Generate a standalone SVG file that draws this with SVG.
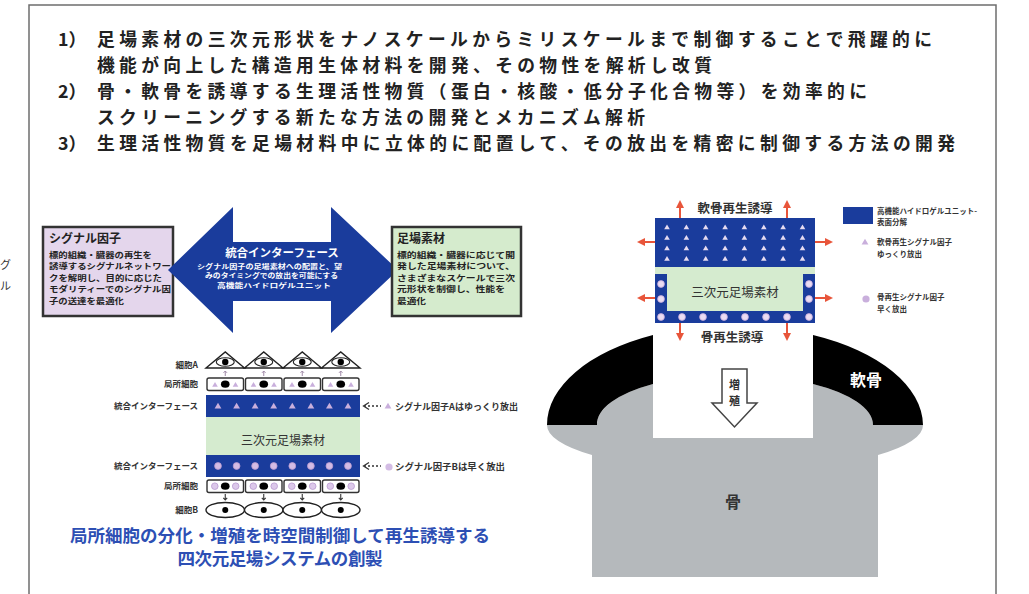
<svg xmlns="http://www.w3.org/2000/svg" xmlns:xlink="http://www.w3.org/1999/xlink" width="1029" height="594" viewBox="0 0 1029 594">
  <style>
    .jp { font-family: "Noto Sans CJK JP", "Noto Sans CJK SC", sans-serif; }
    .b { font-weight: 700; }
    .head { font-size: 17.8px; fill: #222; font-weight: 700; }
    .boxttl { font-size: 12px; fill: #222; font-weight: 700; }
    .boxtxt { font-size: 7.9px; fill: #222; font-weight: 700; }
    .lbl { font-size: 8.5px; fill: #333; font-weight: 700; text-anchor: end; }
    .note { font-size: 9px; fill: #333; font-weight: 700; }
    .leg { font-size: 7.5px; fill: #333; font-weight: 700; }
    .blue { fill: #1a3c9c; }
    .green { fill: #d5ebcf; }
    .lav { fill: #c9afdc; }
    .cell { fill: #fff; stroke: #333; stroke-width: 1.4; }
    .red { stroke: #e8553a; stroke-width: 2; fill: none; marker-end: url(#redHead); }
  </style>
  <defs>
    <marker id="redHead" viewBox="0 0 10 10" refX="5" refY="5" markerWidth="4" markerHeight="4" orient="auto-start-reverse" markerUnits="strokeWidth">
      <path d="M0,0 L10,5 L0,10 Z" fill="#e8553a"/>
    </marker>
    <path id="tri" d="M0,-3.2 L3.4,2.6 L-3.4,2.6 Z"/>
    <path id="triS" d="M0,-2.6 L2.8,2.2 L-2.8,2.2 Z"/>
  </defs>

  <rect width="1029" height="594" fill="#fff"/>

  <!-- outer frame -->
  <g id="frame" stroke="#6e6e6e" stroke-width="1.5" fill="none">
    <path d="M29,594 L29,5 L996,5 L996,594"/>
  </g>

  <!-- characters at the left edge -->
  <g id="edge-text" class="jp" font-size="11" fill="#333">
    <text x="0" y="269">グ</text>
    <text x="0" y="290">ル</text>
  </g>

  <!-- research goals -->
  <g id="goals" class="jp head">
    <text x="58" y="46">1）</text>
    <text x="97" y="46" textLength="835" lengthAdjust="spacing">足場素材の三次元形状をナノスケールからミリスケールまで制御することで飛躍的に</text>
    <text x="97" y="72" textLength="615" lengthAdjust="spacing">機能が向上した構造用生体材料を開発、その物性を解析し改質</text>
    <text x="58" y="98">2）</text>
    <text x="97" y="98" textLength="770" lengthAdjust="spacing">骨・軟骨を誘導する生理活性物質（蛋白・核酸・低分子化合物等）を効率的に</text>
    <text x="97" y="124" textLength="548" lengthAdjust="spacing">スクリーニングする新たな方法の開発とメカニズム解析</text>
    <text x="58" y="150">3）</text>
    <text x="97" y="150" textLength="858" lengthAdjust="spacing">生理活性物質を足場材料中に立体的に配置して、その放出を精密に制御する方法の開発</text>
  </g>

  <!-- signal factor box -->
  <g id="signal-box" class="jp">
    <rect x="43" y="227" width="130" height="89" fill="#e4d6ec" stroke="#333" stroke-width="2.5"/>
    <text class="boxttl" x="49" y="243">シグナル因子</text>
    <text class="boxtxt" x="49" y="257.5" textLength="103" lengthAdjust="spacingAndGlyphs">標的組織・臓器の再生を</text>
    <text class="boxtxt" x="49" y="269" textLength="122" lengthAdjust="spacingAndGlyphs">誘導するシグナルネットワー</text>
    <text class="boxtxt" x="49" y="280.5" textLength="113" lengthAdjust="spacingAndGlyphs">クを解明し、目的に応じた</text>
    <text class="boxtxt" x="49" y="292" textLength="122" lengthAdjust="spacingAndGlyphs">モダリティーでのシグナル因</text>
    <text class="boxtxt" x="49" y="303.5" textLength="75" lengthAdjust="spacingAndGlyphs">子の送達を最適化</text>
  </g>

  <!-- integrated interface double arrow -->
  <g id="interface-arrow" class="jp">
    <path class="blue" d="M168,270 L233,207 L233,242 L331,242 L331,207 L398,270 L331,333 L331,301 L233,301 L233,333 Z"/>
    <text x="282" y="256.5" font-size="11.5" fill="#fff" font-weight="700" text-anchor="middle">統合インターフェース</text>
    <g font-size="6.5" fill="#fff" font-weight="700">
      <text x="197" y="268.5" textLength="145" lengthAdjust="spacingAndGlyphs">シグナル因子の足場素材への配置と、望</text>
      <text x="205" y="278" textLength="133" lengthAdjust="spacingAndGlyphs">みのタイミングでの放出を可能にする</text>
      <text x="217" y="287.5" textLength="114" lengthAdjust="spacingAndGlyphs">高機能ハイドロゲルユニット</text>
    </g>
  </g>

  <!-- scaffold material box -->
  <g id="scaffold-box" class="jp">
    <rect x="392" y="227" width="129" height="89" fill="#d5ebcd" stroke="#333" stroke-width="2.5"/>
    <text class="boxttl" x="397" y="243">足場素材</text>
    <text class="boxtxt" x="397" y="257.5" textLength="118" lengthAdjust="spacingAndGlyphs">標的組織・臓器に応じて開</text>
    <text class="boxtxt" x="397" y="269" textLength="118" lengthAdjust="spacingAndGlyphs">発した足場素材について、</text>
    <text class="boxtxt" x="397" y="280.5" textLength="118" lengthAdjust="spacingAndGlyphs">さまざまなスケールで三次</text>
    <text class="boxtxt" x="397" y="292" textLength="108" lengthAdjust="spacingAndGlyphs">元形状を制御し、性能を</text>
    <text class="boxtxt" x="397" y="303.5" textLength="29" lengthAdjust="spacingAndGlyphs">最適化</text>
  </g>

  <!-- layered scaffold system -->
  <g id="layer-labels" class="jp lbl">
    <text x="198" y="368">細胞A</text>
    <text x="198" y="387">局所細胞</text>
    <text x="198" y="409">統合インターフェース</text>
    <text x="198" y="469">統合インターフェース</text>
    <text x="198" y="489">局所細胞</text>
    <text x="198" y="513">細胞B</text>
  </g>

  <g id="cells-a" stroke="#222" stroke-width="1.4" fill="#fff">
    <path d="M206,368 L225.25,352 L244.5,368 Z"/>
    <path d="M244.5,368 L263.75,352 L283,368 Z"/>
    <path d="M283,368 L302.25,352 L321.5,368 Z"/>
    <path d="M321.5,368 L340.75,352 L360,368 Z"/>
    <g stroke-width="1.1">
      <ellipse cx="225.25" cy="362" rx="9" ry="4.2"/>
      <ellipse cx="263.75" cy="362" rx="9" ry="4.2"/>
      <ellipse cx="302.25" cy="362" rx="9" ry="4.2"/>
      <ellipse cx="340.75" cy="362" rx="9" ry="4.2"/>
    </g>
    <g fill="#000" stroke="none">
      <circle cx="225.25" cy="362" r="3.2"/>
      <circle cx="263.75" cy="362" r="3.2"/>
      <circle cx="302.25" cy="362" r="3.2"/>
      <circle cx="340.75" cy="362" r="3.2"/>
    </g>
  </g>

  <g id="local-cells-top">
    <g class="cell">
      <rect x="207" y="378" width="36.5" height="12.5" rx="2"/>
      <rect x="245.5" y="378" width="36.5" height="12.5" rx="2"/>
      <rect x="284" y="378" width="36.5" height="12.5" rx="2"/>
      <rect x="322.5" y="378" width="36.5" height="12.5" rx="2"/>
    </g>
    <g class="lav">
      <use href="#triS" x="215" y="384.5"/><use href="#triS" x="235.5" y="384.5"/>
      <use href="#triS" x="253.5" y="384.5"/><use href="#triS" x="274" y="384.5"/>
      <use href="#triS" x="292" y="384.5"/><use href="#triS" x="312.5" y="384.5"/>
      <use href="#triS" x="330.5" y="384.5"/><use href="#triS" x="351" y="384.5"/>
    </g>
    <g fill="#000">
      <ellipse cx="225.25" cy="384.2" rx="4.3" ry="3.6"/>
      <ellipse cx="263.75" cy="384.2" rx="4.3" ry="3.6"/>
      <ellipse cx="302.25" cy="384.2" rx="4.3" ry="3.6"/>
      <ellipse cx="340.75" cy="384.2" rx="4.3" ry="3.6"/>
    </g>
  </g>

  <g id="interface-top">
    <rect class="blue" x="206" y="395" width="154" height="22"/>
    <g class="lav">
      <use href="#tri" x="218" y="406"/><use href="#tri" x="236.6" y="406"/>
      <use href="#tri" x="255.1" y="406"/><use href="#tri" x="273.7" y="406"/>
      <use href="#tri" x="292.3" y="406"/><use href="#tri" x="310.9" y="406"/>
      <use href="#tri" x="329.4" y="406"/><use href="#tri" x="348" y="406"/>
    </g>
  </g>

  <g id="scaffold-core" class="jp">
    <rect class="green" x="206" y="417" width="154" height="38"/>
    <text x="283" y="444.5" font-size="12" fill="#333" text-anchor="middle">三次元足場素材</text>
  </g>

  <g id="interface-bottom">
    <rect class="blue" x="206" y="455" width="154" height="22"/>
    <g fill="#d3bce4" stroke="#b999cf" stroke-width="0.8">
      <circle cx="218" cy="466" r="3.4"/><circle cx="236.6" cy="466" r="3.4"/>
      <circle cx="255.1" cy="466" r="3.4"/><circle cx="273.7" cy="466" r="3.4"/>
      <circle cx="292.3" cy="466" r="3.4"/><circle cx="310.9" cy="466" r="3.4"/>
      <circle cx="329.4" cy="466" r="3.4"/><circle cx="348" cy="466" r="3.4"/>
    </g>
  </g>

  <g id="local-cells-bottom">
    <g class="cell">
      <rect x="207" y="480" width="36.5" height="12.5" rx="2"/>
      <rect x="245.5" y="480" width="36.5" height="12.5" rx="2"/>
      <rect x="284" y="480" width="36.5" height="12.5" rx="2"/>
      <rect x="322.5" y="480" width="36.5" height="12.5" rx="2"/>
    </g>
    <g fill="#dcc8ea" stroke="#b999cf" stroke-width="0.8">
      <circle cx="214.8" cy="486.2" r="3.3"/><circle cx="235.7" cy="486.2" r="3.3"/>
      <circle cx="253.3" cy="486.2" r="3.3"/><circle cx="274.2" cy="486.2" r="3.3"/>
      <circle cx="291.8" cy="486.2" r="3.3"/><circle cx="312.7" cy="486.2" r="3.3"/>
      <circle cx="330.3" cy="486.2" r="3.3"/><circle cx="351.2" cy="486.2" r="3.3"/>
    </g>
    <g fill="#000">
      <ellipse cx="225.25" cy="486.2" rx="4.3" ry="3.6"/>
      <ellipse cx="263.75" cy="486.2" rx="4.3" ry="3.6"/>
      <ellipse cx="302.25" cy="486.2" rx="4.3" ry="3.6"/>
      <ellipse cx="340.75" cy="486.2" rx="4.3" ry="3.6"/>
    </g>
  </g>

  <g id="cells-b">
    <g fill="#fff" stroke="#222" stroke-width="1.4">
      <ellipse cx="225.25" cy="510" rx="19.25" ry="7.5"/>
      <ellipse cx="263.75" cy="510" rx="19.25" ry="7.5"/>
      <ellipse cx="302.25" cy="510" rx="19.25" ry="7.5"/>
      <ellipse cx="340.75" cy="510" rx="19.25" ry="7.5"/>
    </g>
    <g fill="#000">
      <circle cx="225.25" cy="510" r="3"/>
      <circle cx="263.75" cy="510" r="3"/>
      <circle cx="302.25" cy="510" r="3"/>
      <circle cx="340.75" cy="510" r="3"/>
    </g>
  </g>

  <!-- release notes -->
  <g id="release-notes" class="jp note">
    <use class="lav" href="#tri" x="388" y="406"/>
    <text x="395" y="409.5" textLength="123" lengthAdjust="spacingAndGlyphs">シグナル因子Aはゆっくり放出</text>
    <circle cx="389" cy="467" r="3.6" fill="#d3bce4"/>
    <text x="395" y="470" textLength="110" lengthAdjust="spacingAndGlyphs">シグナル因子Bは早く放出</text>
  </g>

  <g id="connectors">
    <!-- release pointers -->
    <g stroke="#333" stroke-width="1.3" fill="none">
      <path d="M369,402.5 L363.5,406 L369,409.5"/>
      <path d="M364,406 L381,406" stroke-dasharray="2 2"/>
      <path d="M369,462.5 L363.5,466 L369,469.5"/>
      <path d="M364,466 L381,466" stroke-dasharray="2 2"/>
    </g>
    <!-- signals from cell A -->
    <g stroke="#a08aa8" stroke-width="1" fill="none">
      <path d="M225.25,376 L225.25,371 M223.5,372.8 L225.25,371 L227,372.8"/>
      <path d="M263.75,376 L263.75,371 M262,372.8 L263.75,371 L265.5,372.8"/>
      <path d="M302.25,376 L302.25,371 M300.5,372.8 L302.25,371 L304,372.8"/>
      <path d="M340.75,376 L340.75,371 M339,372.8 L340.75,371 L342.5,372.8"/>
    </g>
    <!-- signals towards cell B -->
    <g stroke="#333" stroke-width="1.1" fill="none">
      <path d="M225.25,494 L225.25,500 M223.3,497.8 L225.25,500 L227.2,497.8"/>
      <path d="M263.75,494 L263.75,500 M261.8,497.8 L263.75,500 L265.7,497.8"/>
      <path d="M302.25,494 L302.25,500 M300.3,497.8 L302.25,500 L304.2,497.8"/>
      <path d="M340.75,494 L340.75,500 M338.8,497.8 L340.75,500 L342.7,497.8"/>
    </g>
    <!-- regeneration signals leaving the implant -->
    <g>
      <path class="red" d="M680,218 L680,204"/>
      <path class="red" d="M787,218 L787,204"/>
      <path class="red" d="M655,242 L641,242"/>
      <path class="red" d="M655,298 L641,298"/>
      <path class="red" d="M815,242 L829,242"/>
      <path class="red" d="M815,298 L829,298"/>
      <path class="red" d="M680,323 L680,337"/>
      <path class="red" d="M787,323 L787,337"/>
    </g>
  </g>

  <!-- headline -->
  <g id="headline" class="jp b" font-size="17.5" fill="#2d4fb4" text-anchor="middle">
    <text x="280" y="541.5" textLength="420" lengthAdjust="spacing">局所細胞の分化・増殖を時空間制御して再生誘導する</text>
    <text x="280" y="564.5" textLength="205" lengthAdjust="spacing">四次元足場システムの創製</text>
  </g>

  <!-- joint: bone and cartilage -->
  <g id="bone">
    <path fill="#b5b9bc" d="M547,425 A188,46 0 0 0 592,455 L592,577 L878,577 L878,455 A188,46 0 0 0 923,425 L873,425 A138,50 0 0 0 813,384 L813,438 L653,438 L653,384 A138,50 0 0 0 597,425 Z"/>
    <text class="jp b" x="733" y="508" font-size="16" fill="#333" text-anchor="middle">骨</text>
  </g>
  <g id="cartilage">
    <path fill="#000" d="M547,425 A188,100 0 0 1 653,335 L653,384 A138,50 0 0 0 597,425 Z"/>
    <path fill="#000" d="M813,335 A188,100 0 0 1 923,425 L873,425 A138,50 0 0 0 813,384 Z"/>
    <text class="jp b" x="866" y="386" font-size="16" fill="#fff" text-anchor="middle">軟骨</text>
  </g>

  <g id="growth-arrow" class="jp">
    <path d="M722,369 L747,369 L747,403 L757,403 L734.5,427 L712,403 L722,403 Z" fill="#fff" stroke="#444" stroke-width="1.5"/>
    <text x="734.5" y="389" font-size="11" fill="#333" font-weight="700" text-anchor="middle">増</text>
    <text x="734.5" y="405" font-size="11" fill="#333" font-weight="700" text-anchor="middle">殖</text>
  </g>

  <!-- implanted scaffold unit -->
  <g id="implant" class="jp">
    <rect class="blue" x="655" y="218" width="160" height="105"/>
    <path class="green" d="M655,267 L815,267 L815,274 L803,274 L803,311 L667,311 L667,274 L655,274 Z"/>
    <g fill="#e6dbf1">
      <use href="#triS" x="667" y="227"/><use href="#triS" x="686.4" y="227"/><use href="#triS" x="705.7" y="227"/><use href="#triS" x="725.1" y="227"/>
      <use href="#triS" x="744.4" y="227"/><use href="#triS" x="763.8" y="227"/><use href="#triS" x="783.1" y="227"/><use href="#triS" x="802.5" y="227"/>
      <use href="#triS" x="667" y="237.5"/><use href="#triS" x="686.4" y="237.5"/><use href="#triS" x="705.7" y="237.5"/><use href="#triS" x="725.1" y="237.5"/>
      <use href="#triS" x="744.4" y="237.5"/><use href="#triS" x="763.8" y="237.5"/><use href="#triS" x="783.1" y="237.5"/><use href="#triS" x="802.5" y="237.5"/>
      <use href="#triS" x="667" y="248"/><use href="#triS" x="686.4" y="248"/><use href="#triS" x="705.7" y="248"/><use href="#triS" x="725.1" y="248"/>
      <use href="#triS" x="744.4" y="248"/><use href="#triS" x="763.8" y="248"/><use href="#triS" x="783.1" y="248"/><use href="#triS" x="802.5" y="248"/>
      <use href="#triS" x="667" y="258.5"/><use href="#triS" x="686.4" y="258.5"/><use href="#triS" x="705.7" y="258.5"/><use href="#triS" x="725.1" y="258.5"/>
      <use href="#triS" x="744.4" y="258.5"/><use href="#triS" x="763.8" y="258.5"/><use href="#triS" x="783.1" y="258.5"/><use href="#triS" x="802.5" y="258.5"/>
    </g>
    <g fill="#eadcf2" stroke="#c7a9dc" stroke-width="0.8">
      <circle cx="661" cy="284" r="3.4"/><circle cx="661" cy="299" r="3.4"/>
      <circle cx="809" cy="284" r="3.4"/><circle cx="809" cy="299" r="3.4"/>
      <circle cx="661" cy="317" r="3.4"/><circle cx="682" cy="317" r="3.4"/><circle cx="703" cy="317" r="3.4"/><circle cx="724" cy="317" r="3.4"/>
      <circle cx="745" cy="317" r="3.4"/><circle cx="766" cy="317" r="3.4"/><circle cx="787" cy="317" r="3.4"/><circle cx="809" cy="317" r="3.4"/>
    </g>
    <text x="735" y="296.5" font-size="12.5" fill="#333" text-anchor="middle">三次元足場素材</text>
    <text x="735" y="213" font-size="12.5" fill="#333" font-weight="700" text-anchor="middle">軟骨再生誘導</text>
    <text x="732" y="342" font-size="12.5" fill="#333" font-weight="700" text-anchor="middle">骨再生誘導</text>
  </g>

  <!-- legend -->
  <g id="legend" class="jp leg">
    <rect class="blue" x="843" y="207" width="30" height="17"/>
    <text x="877" y="214">高機能ハイドロゲルユニット-</text>
    <text x="877" y="225">表面分解</text>
    <use class="lav" href="#tri" x="865" y="242"/>
    <text x="877" y="245">軟骨再生シグナル因子</text>
    <text x="877" y="257">ゆっくり放出</text>
    <circle cx="866" cy="299" r="3.6" fill="#c9afdc"/>
    <text x="877" y="300">骨再生シグナル因子</text>
    <text x="877" y="312">早く放出</text>
  </g>
</svg>
